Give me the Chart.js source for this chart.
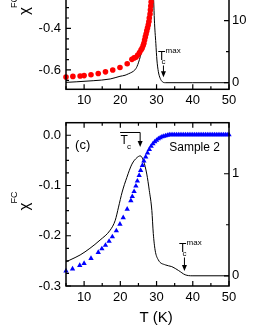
<!DOCTYPE html>
<html><head><meta charset="utf-8">
<script src="https://cdn.jsdelivr.net/npm/chart.js@4/dist/chart.umd.min.js"></script>
<style>
html,body{margin:0;padding:0;background:#fff;overflow:hidden;width:255px;height:330px;position:relative}
canvas{position:absolute;left:0}
#c1{top:-40px}
#c2{top:100px}
</style></head><body>
<canvas id="c1" width="255" height="150"></canvas>
<canvas id="c2" width="255" height="230"></canvas>
<script>
// ---------- shared x axis ----------
const xTickLabels = [10, 20, 30, 40, 50];
const xMinorTicks = [5, 15, 25, 35, 45];

// ---------- upper panel (partly visible) ----------
const redT   = [5, 6.9, 8.9, 10, 11.9, 13.9, 15.9, 17.9, 19.9, 21.9, 23.2, 23.8, 24.3, 24.8, 25.3, 25.7, 26.0, 26.3, 26.5, 26.7, 26.9, 27.1, 27.3, 27.5, 27.7, 27.9, 28.0, 28.2, 28.3, 28.4, 28.5, 28.6];
const redChi = [-0.634, -0.631, -0.629, -0.627, -0.623, -0.617, -0.609, -0.600, -0.588, -0.570, -0.549, -0.542, -0.539, -0.528, -0.516, -0.504, -0.496, -0.482, -0.472, -0.456, -0.441, -0.427, -0.412, -0.398, -0.384, -0.367, -0.350, -0.331, -0.312, -0.292, -0.273, -0.254];
const lineT1 = [5, 8, 12.5, 17.2, 19.9, 21.3, 22.3, 23.2, 24.0, 24.6, 25.5, 26.4, 27.0, 27.8, 28.2, 28.7, 29.2, 29.4, 29.8, 30.1, 30.5, 31.0, 31.6, 32.4, 40, 50];
const lineR1 = [0.05, 0.15, 0.32, 0.6, 1.03, 1.2, 1.45, 1.7, 2.05, 2.6, 4.19, 6.35, 8.5, 11.2, 13.3, 19, 13.3, 10.1, 6.35, 3.66, 1.77, 0.71, 0.16, 0.0, 0, 0];
const leftTicks1  = [-0.6, -0.4, -0.2];
const leftMinor1  = [-0.65, -0.55, -0.5, -0.45, -0.35, -0.3, -0.25];
const rightTicks1 = [0, 10];
const rightMinor1 = [5, 15];

// ---------- lower panel (c) ----------
const blueT = [5, 6.8, 8.8, 10, 11.9, 13.9, 14.9, 15.9, 16.9, 17.8, 18.9, 19.9, 20.8, 21.9, 22.9, 23.3, 23.8, 24.3, 24.7, 25.2, 25.6, 26.1, 26.5, 27.0, 27.5, 28.0, 28.5, 29.0, 29.5, 30.0, 30.5, 31.0, 31.5, 32.0, 32.5, 33.0, 33.5, 34.0, 34.5, 35.0, 35.5, 36.0, 36.5, 37.0, 37.5, 38.0, 38.5, 39.0, 39.5, 40.0, 40.5, 41.0, 41.5, 42.0, 42.5, 43.0, 43.5, 44.0, 44.5, 45.0, 45.5, 46.0, 46.5, 47.0, 47.5, 48.0, 48.5, 49.0, 49.5, 50.0];
const blueChi = [-0.270, -0.266, -0.259, -0.255, -0.245, -0.233, -0.226, -0.219, -0.211, -0.202, -0.190, -0.177, -0.164, -0.147, -0.130, -0.122, -0.112, -0.101, -0.091, -0.080, -0.070, -0.060, -0.051, -0.043, -0.035, -0.028, -0.022, -0.017, -0.013, -0.010, -0.007, -0.005, -0.003, -0.002, -0.001, 0.000, 0.001, 0.001, 0.001, 0.001, 0.001, 0.001, 0.001, 0.001, 0.001, 0.001, 0.001, 0.001, 0.001, 0.001, 0.001, 0.001, 0.001, 0.001, 0.001, 0.001, 0.001, 0.001, 0.001, 0.001, 0.001, 0.001, 0.001, 0.001, 0.001, 0.001, 0.001, 0.001, 0.001, 0.001];
const lineT2 = [5, 6.1, 8.9, 11.6, 14.4, 17.2, 18.6, 19.5, 20.5, 21.8, 23.2, 24.6, 25.5, 26.4, 27.3, 28.0, 28.7, 29.1, 29.6, 30.5, 32.4, 34.2, 36.1, 37.9, 39.8, 50];
const lineR2 = [0.136, 0.155, 0.204, 0.269, 0.35, 0.447, 0.544, 0.673, 0.82, 0.964, 1.094, 1.158, 1.175, 1.126, 0.997, 0.835, 0.64, 0.415, 0.252, 0.155, 0.107, 0.09, 0.051, 0.01, 0, 0];
const leftTicks2  = [0.0, -0.1, -0.2, -0.3];
const leftMinor2  = [-0.025, -0.05, -0.075, -0.125, -0.15, -0.175, -0.225, -0.25, -0.275];
const rightTicks2 = [0, 1];
const rightMinor2 = [0.5];

const FONT = '"Liberation Sans", Arial, Helvetica, sans-serif';
Chart.defaults.color = '#000';
Chart.defaults.font.family = FONT;

const pts = (xs, ys) => xs.map((x, i) => ({ x: x, y: ys[i] }));

function arrowDown(ctx, x, y1, y2) {
  ctx.strokeStyle = '#000'; ctx.fillStyle = '#000'; ctx.lineWidth = 1;
  ctx.beginPath(); ctx.moveTo(x, y1); ctx.lineTo(x, y2 - 4); ctx.stroke();
  ctx.beginPath(); ctx.moveTo(x - 2.5, y2 - 6); ctx.lineTo(x + 2.5, y2 - 6); ctx.lineTo(x, y2); ctx.closePath(); ctx.fill();
}
function tcMax(ctx, X, Y, tArrow, rBase, rTip) {
  const ax = X(tArrow), y0 = Y(rBase), yTip = Y(rTip);
  ctx.fillStyle = '#000';
  ctx.textBaseline = 'alphabetic';
  ctx.font = '12px ' + FONT; ctx.textAlign = 'center';
  ctx.fillText('T', ax - 1.8, y0);
  const tw = ctx.measureText('T').width;
  ctx.font = '8px ' + FONT; ctx.textAlign = 'left';
  ctx.fillText('max', ax - 1.8 + tw / 2 + 0.3, y0 - 7);
  ctx.textAlign = 'center';
  ctx.fillText('c', ax, y0 + 4);
  arrowDown(ctx, ax, y0 + 5.5, yTip);
}
function chiLabel(ctx, cx, cy) {
  ctx.save(); ctx.translate(cx, cy); ctx.rotate(-Math.PI / 2);
  ctx.fillStyle = '#000';
  ctx.font = '15px ' + FONT; ctx.textAlign = 'center'; ctx.textBaseline = 'middle';
  ctx.fillText('\u03C7', 0, 0);
  ctx.font = '9px ' + FONT;
  ctx.fillText('FC', 9, -10.5);
  ctx.restore();
}

function axesPlugin(o) {
  return {
    id: 'axes_' + o.name,
    afterDatasetsDraw(chart) {
      const ctx = chart.ctx, a = chart.chartArea, s = chart.scales;
      const X = v => s.x.getPixelForValue(v), YL = v => s.y.getPixelForValue(v), YR = v => s.y2.getPixelForValue(v);
      ctx.save();
      ctx.strokeStyle = '#000';
      ctx.lineWidth = 1.5;
      ctx.strokeRect(a.left, a.top, a.right - a.left, a.bottom - a.top);
      ctx.lineWidth = 1.2;
      ctx.beginPath();
      const seg = (x1, y1, x2, y2) => { ctx.moveTo(x1, y1); ctx.lineTo(x2, y2); };
      [[xTickLabels, 5], [xMinorTicks, 3]].forEach(([arr, len]) => arr.forEach(v => {
        const x = X(v); seg(x, a.bottom, x, a.bottom - len); if (o.topTicks) seg(x, a.top, x, a.top + len);
      }));
      [[o.leftMajor, 5], [o.leftMinor, 3]].forEach(([arr, len]) => arr.forEach(v => { const y = YL(v); seg(a.left, y, a.left + len, y); }));
      [[o.rightMajor, 5], [o.rightMinor, 3]].forEach(([arr, len]) => arr.forEach(v => { const y = YR(v); seg(a.right, y, a.right - len, y); }));
      ctx.stroke();
      o.draw(ctx, X, YL, YR, a);
      ctx.restore();
    }
  };
}

function buildChart(id, o) {
  return new Chart(document.getElementById(id), {
    type: 'scatter',
    data: { datasets: o.datasets },
    options: {
      responsive: false, animation: false, devicePixelRatio: 1,
      layout: { padding: { top: o.padTop, left: 0, right: 0, bottom: 0 } },
      plugins: { legend: { display: false }, tooltip: { enabled: false } },
      scales: {
        x: {
          type: 'linear', position: 'bottom', min: 5, max: 50,
          grid: { display: false, drawTicks: false }, border: { display: false },
          ticks: { font: { family: FONT, size: 13 }, color: '#000', padding: o.xPad, maxRotation: 0, autoSkip: false, callback: v => String(v) },
          afterBuildTicks: sc => { sc.ticks = xTickLabels.map(v => ({ value: v })); },
          afterFit: sc => { sc.height = o.xHeight; }
        },
        y: {
          type: 'linear', position: 'left', min: o.yMin, max: o.yMax,
          grid: { display: false, drawTicks: false }, border: { display: false },
          ticks: { font: { family: FONT, size: 13 }, color: '#000', padding: 5, autoSkip: false, callback: v => (Math.abs(v) < 1e-9 ? 0 : v).toFixed(1) },
          afterBuildTicks: sc => { sc.ticks = o.leftMajor.map(v => ({ value: v })); },
          afterFit: sc => { sc.width = 66; }
        },
        y2: {
          type: 'linear', position: 'right', min: o.rMin, max: o.rMax,
          grid: { display: false, drawTicks: false }, border: { display: false },
          ticks: { font: { family: FONT, size: 13 }, color: '#000', padding: 3, autoSkip: false, callback: v => String(Math.round(v)) },
          afterBuildTicks: sc => { sc.ticks = o.rightMajor.map(v => ({ value: v })); },
          afterFit: sc => { sc.width = 26; }
        }
      }
    },
    plugins: [axesPlugin(o)]
  });
}

// upper panel
buildChart('c1', {
  name: 'top', padTop: 26.8, xHeight: 20.7, xPad: 3,
  yMin: -0.693, yMax: -0.2, rMin: -1.065, rMax: 15.467,
  leftMajor: leftTicks1, leftMinor: leftMinor1, rightMajor: rightTicks1, rightMinor: rightMinor1,
  topTicks: false,
  datasets: [
    { data: pts(redT, redChi), yAxisID: 'y', pointStyle: 'circle', pointRadius: 2.8, pointBackgroundColor: '#ff0000', pointBorderWidth: 0, showLine: false, clip: false },
    { data: pts(lineT1, lineR1), yAxisID: 'y2', showLine: true, pointRadius: 0, borderColor: '#000', borderWidth: 1, cubicInterpolationMode: 'monotone', fill: false }
  ],
  draw(ctx, X, YL, YR, a) {
    tcMax(ctx, X, YR, 31.9, 3.66, 0.87);
    chiLabel(ctx, 25, 51);
  }
});

// lower panel (c)
buildChart('c2', {
  name: 'bot', padTop: 22.7, xHeight: 44, xPad: 4,
  yMin: -0.3, yMax: 0.025, rMin: -0.1, rMax: 1.5,
  leftMajor: leftTicks2, leftMinor: leftMinor2, rightMajor: rightTicks2, rightMinor: rightMinor2,
  topTicks: true,
  datasets: [
    { data: pts(blueT, blueChi), yAxisID: 'y', pointStyle: 'triangle', pointRadius: 3.1, pointBackgroundColor: '#0000ff', pointBorderColor: '#0000ff', pointBorderWidth: 0, showLine: false, clip: false },
    { data: pts(lineT2, lineR2), yAxisID: 'y2', showLine: true, pointRadius: 0, borderColor: '#000', borderWidth: 1, cubicInterpolationMode: 'monotone', fill: false }
  ],
  draw(ctx, X, YL, YR, a) {
    tcMax(ctx, X, YR, 37.7, 0.233, 0.047);
    // T-bar c label with arrow to the peak
    ctx.fillStyle = '#000';
    ctx.font = '12px ' + FONT; ctx.textAlign = 'center'; ctx.textBaseline = 'alphabetic';
    const tx = X(21.05), y0 = YR(1.296);
    ctx.fillText('T', tx, y0);
    ctx.font = '8px ' + FONT;
    ctx.fillText('c', tx + 4.8, y0 + 5);
    const yb = YR(1.404);
    ctx.strokeStyle = '#000'; ctx.lineWidth = 1;
    ctx.beginPath(); ctx.moveTo(X(19.94), yb); ctx.lineTo(X(25.47), yb); ctx.stroke();
    arrowDown(ctx, X(25.47), yb, YR(1.262));
    // panel labels
    ctx.font = '13px ' + FONT; ctx.textAlign = 'left'; ctx.textBaseline = 'middle';
    ctx.fillText('(c)', X(7.5), YR(1.28));
    ctx.font = '12px ' + FONT;
    ctx.fillText('Sample 2', X(33.5), YR(1.252));
    // axis title
    ctx.font = '15px ' + FONT; ctx.textAlign = 'center';
    ctx.fillText('T (K)', X(29.9), a.bottom + 32);
    chiLabel(ctx, 25, 106.5);
  }
});
</script>
</body></html>
